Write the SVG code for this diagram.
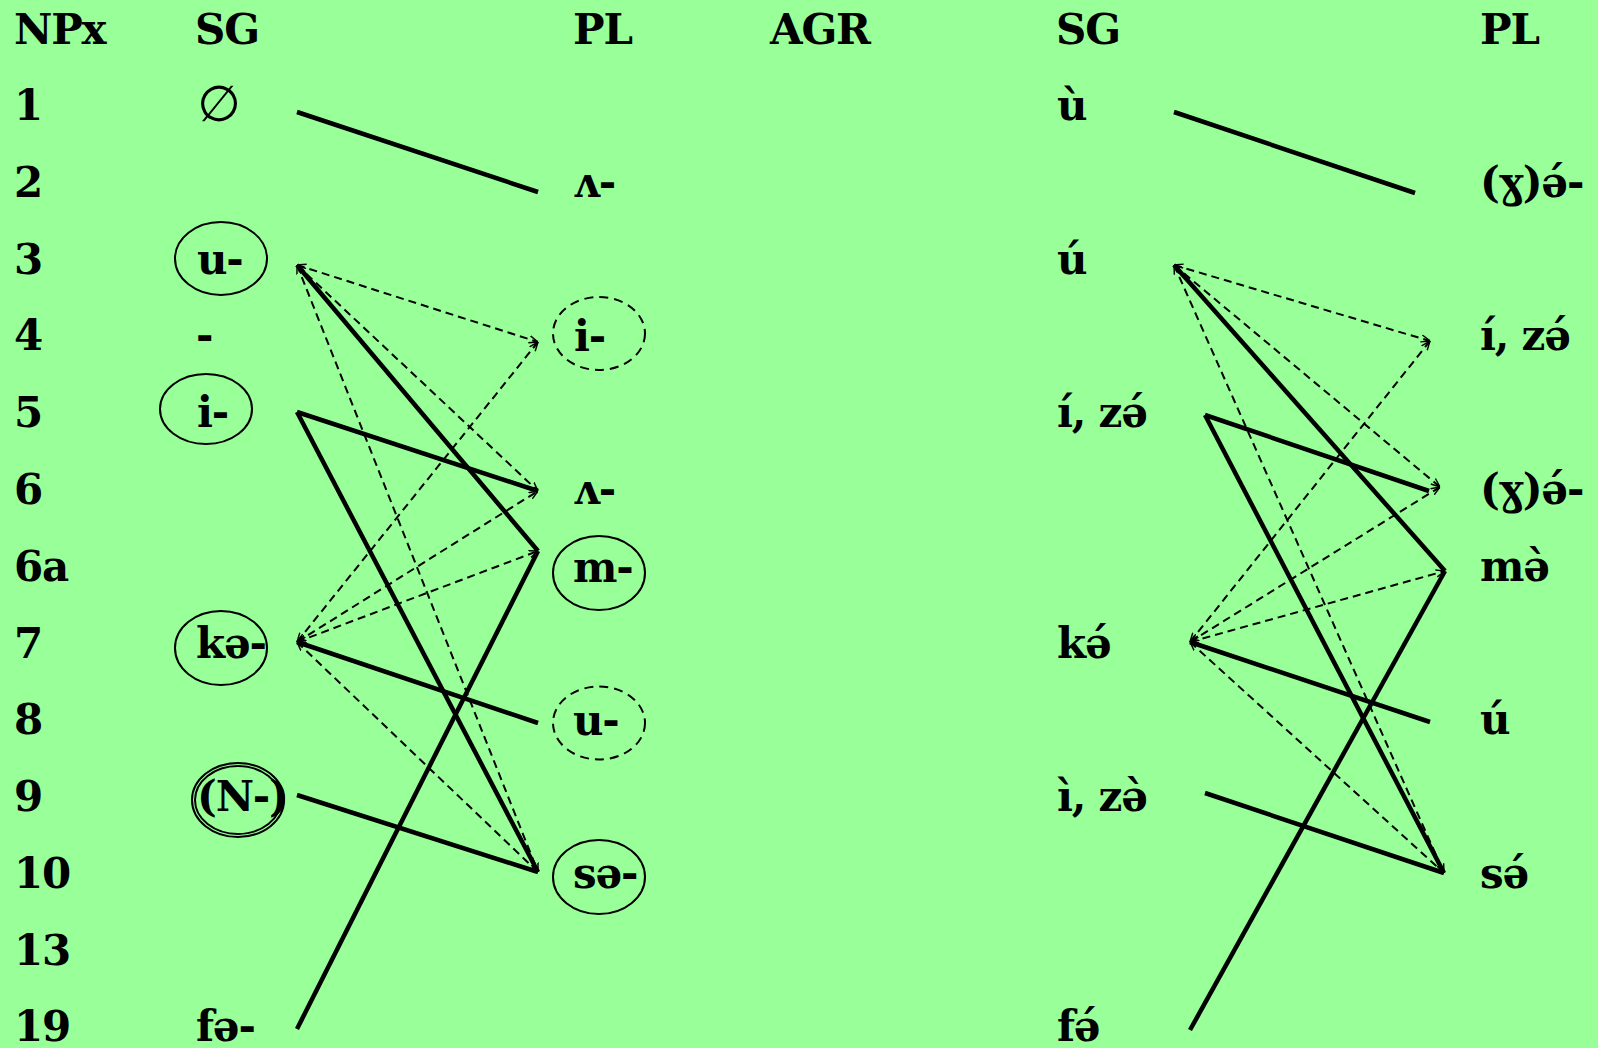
<svg xmlns="http://www.w3.org/2000/svg" width="1598" height="1048" viewBox="0 0 1598 1048">
<defs>
<style>
.t{font-family:"DejaVu Serif","Liberation Serif",serif;font-weight:bold;font-size:42px;letter-spacing:-1.2px;fill:#000}
.e{font-family:"DejaVu Sans",sans-serif;font-weight:normal;font-size:50px;fill:#000}
.ring{fill:none;stroke:#000;stroke-width:2}
.dring{fill:none;stroke:#000;stroke-width:2;stroke-dasharray:9 6}
.s{stroke:#000;stroke-width:4.5;fill:none}
.d{stroke:#000;stroke-width:2;fill:none;stroke-dasharray:8 5;marker-start:url(#ah);marker-end:url(#ah)}
</style>
<marker id="ah" viewBox="0 0 10 10" refX="10" refY="5" markerWidth="9" markerHeight="9" markerUnits="userSpaceOnUse" orient="auto-start-reverse">
<path d="M0,1 L10,5 L0,9" fill="none" stroke="#000" stroke-width="1.6"/>
</marker>
</defs>
<rect width="1598" height="1048" fill="#99ff99"/>
<g id="headers">
<text class="t" x="14" y="44">NPx</text>
<text class="t" x="195" y="44">SG</text>
<text class="t" x="573" y="44">PL</text>
<text class="t" x="770" y="44">AGR</text>
<text class="t" x="1056" y="44">SG</text>
<text class="t" x="1480" y="44">PL</text>
</g>
<g id="npx-numbers">
<text class="t" x="14" y="120">1</text>
<text class="t" x="14" y="197">2</text>
<text class="t" x="14" y="274">3</text>
<text class="t" x="14" y="350">4</text>
<text class="t" x="14" y="427">5</text>
<text class="t" x="14" y="504">6</text>
<text class="t" x="14" y="581">6a</text>
<text class="t" x="14" y="658">7</text>
<text class="t" x="14" y="734">8</text>
<text class="t" x="14" y="811">9</text>
<text class="t" x="14" y="888">10</text>
<text class="t" x="14" y="965">13</text>
<text class="t" x="14" y="1041">19</text>
</g>
<g id="sg-1"><text class="e" x="219" y="121" text-anchor="middle">∅</text></g>
<g id="sg-3"><ellipse class="ring" cx="221" cy="258.5" rx="46" ry="36.5"/><text class="t" x="197" y="274">u-</text></g>
<g id="sg-4"><text class="t" x="196" y="350">-</text></g>
<g id="sg-5"><ellipse class="ring" cx="206" cy="409" rx="46" ry="35"/><text class="t" x="197" y="427">i-</text></g>
<g id="sg-7"><ellipse class="ring" cx="221" cy="648" rx="46" ry="37"/><text class="t" x="196" y="658">kə-</text></g>
<g id="sg-9"><ellipse class="ring" cx="238" cy="800" rx="46" ry="37"/><ellipse class="ring" cx="238" cy="800" rx="43" ry="34"/><text class="t" x="197" y="811">(N-)</text></g>
<g id="sg-19"><text class="t" x="196" y="1041">fə-</text></g>
<g id="pl-2"><text class="t" x="573" y="197">ʌ-</text></g>
<g id="pl-4"><ellipse class="dring" cx="599" cy="333.5" rx="46" ry="36.5"/><text class="t" x="574" y="351">i-</text></g>
<g id="pl-6"><text class="t" x="573" y="504">ʌ-</text></g>
<g id="pl-6a"><ellipse class="ring" cx="599" cy="573" rx="46" ry="37"/><text class="t" x="573" y="582">m-</text></g>
<g id="pl-8"><ellipse class="dring" cx="599" cy="723" rx="46" ry="36.5"/><text class="t" x="573" y="735">u-</text></g>
<g id="pl-10"><ellipse class="ring" cx="599" cy="877" rx="46" ry="37"/><text class="t" x="573" y="888">sə-</text></g>
<g id="agr-sg-1"><text class="t" x="1057" y="120">ù</text></g>
<g id="agr-sg-3"><text class="t" x="1057" y="274">ú</text></g>
<g id="agr-sg-5"><text class="t" x="1057" y="427">í, zə́</text></g>
<g id="agr-sg-7"><text class="t" x="1057" y="658">kə́</text></g>
<g id="agr-sg-9"><text class="t" x="1057" y="811">ì, zə̀</text></g>
<g id="agr-sg-19"><text class="t" x="1057" y="1041">fə́</text></g>
<g id="agr-pl-2"><text class="t" x="1480" y="197">(ɣ)ə́-</text></g>
<g id="agr-pl-4"><text class="t" x="1480" y="350">í, zə́</text></g>
<g id="agr-pl-6"><text class="t" x="1480" y="504">(ɣ)ə́-</text></g>
<g id="agr-pl-6a"><text class="t" x="1480" y="581">mə̀</text></g>
<g id="agr-pl-8"><text class="t" x="1480" y="734">ú</text></g>
<g id="agr-pl-10"><text class="t" x="1480" y="888">sə́</text></g>
<g id="connectors">
<line class="s" x1="297" y1="112" x2="538" y2="192"/>
<line class="s" x1="297" y1="265" x2="538" y2="551"/>
<line class="s" x1="297" y1="412" x2="538" y2="491"/>
<line class="s" x1="297" y1="412" x2="538" y2="872"/>
<line class="s" x1="297" y1="642" x2="538" y2="723"/>
<line class="s" x1="297" y1="795" x2="538" y2="872"/>
<line class="s" x1="297" y1="1029" x2="538" y2="551"/>
<line class="d" x1="297" y1="265" x2="538" y2="342"/>
<line class="d" x1="297" y1="265" x2="538" y2="491"/>
<line class="d" x1="297" y1="265" x2="538" y2="872"/>
<line class="d" x1="297" y1="642" x2="538" y2="342"/>
<line class="d" x1="297" y1="642" x2="538" y2="491"/>
<line class="d" x1="297" y1="642" x2="538" y2="551"/>
<line class="d" x1="297" y1="642" x2="538" y2="872"/>
<line class="s" x1="1174" y1="112" x2="1415" y2="193"/>
<line class="s" x1="1174" y1="265" x2="1445" y2="571"/>
<line class="s" x1="1205" y1="415" x2="1429" y2="491"/>
<line class="s" x1="1205" y1="415" x2="1444" y2="873"/>
<line class="s" x1="1190" y1="642" x2="1430" y2="722"/>
<line class="s" x1="1205" y1="793" x2="1444" y2="873"/>
<line class="s" x1="1190" y1="1030" x2="1445" y2="571"/>
<line class="d" x1="1174" y1="265" x2="1430" y2="341"/>
<line class="d" x1="1174" y1="265" x2="1440" y2="487"/>
<line class="d" x1="1174" y1="265" x2="1444" y2="873"/>
<line class="d" x1="1190" y1="642" x2="1430" y2="341"/>
<line class="d" x1="1190" y1="642" x2="1440" y2="487"/>
<line class="d" x1="1190" y1="642" x2="1445" y2="571"/>
<line class="d" x1="1190" y1="642" x2="1444" y2="873"/>
</g>
</svg>
